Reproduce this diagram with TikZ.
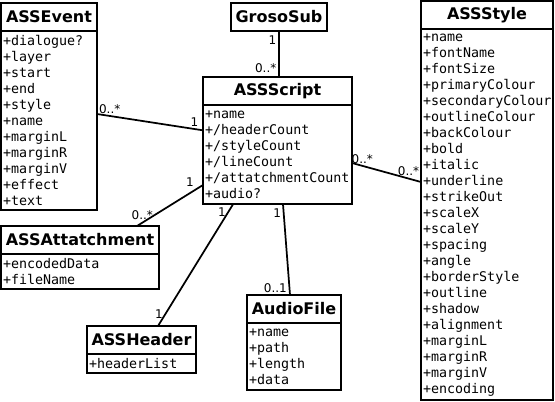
\documentclass[tikz,border=0pt]{standalone}
\usepackage{fontspec}
\setmainfont{DejaVu Sans}
\setmonofont{DejaVu Sans Mono}
\usetikzlibrary{positioning}

\begin{document}
\begin{tikzpicture}[x=0.75pt, y=-0.75pt,
  every node/.style={outer sep=0pt},
  classname/.style={draw, line width=1.4pt, anchor=north west, minimum height=21pt, inner sep=0pt,
    font=\fontsize{12}{14}\selectfont\bfseries},
  attrs/.style={draw, line width=1.4pt, inner xsep=1.5pt, inner ysep=0pt, align=left,
    font=\fontsize{10}{12}\selectfont\ttfamily},
  mult/.style={inner sep=2pt, font=\fontsize{9}{10}\selectfont},
  assoc/.style={line width=1.3pt}]
  \useasboundingbox (0,0) rectangle (555,402);
  % Classes (title box + attribute box)
  \node[classname, minimum width=72pt] (evt) at (1,3) {ASSEvent};
  \node[attrs, text width=69pt, minimum height=134.5pt, below=0pt of evt] (evtb)
    {+dialogue?\\+layer\\+start\\+end\\+style\\+name\\+marginL\\+marginR\\+marginV\\+effect\\+text};
  \node[classname, minimum width=72pt] (groso) at (231,3) {GrosoSub};
  \node[classname, minimum width=111.75pt] (script) at (203,77) {ASSScript};
  \node[attrs, text width=108.75pt, minimum height=74.5pt, below=0pt of script] (scriptb)
    {+name\\+/headerCount\\+/styleCount\\+/lineCount\\+/attatchmentCount\\+audio?};
  \node[classname, minimum width=99pt] (style) at (421,1) {ASSStyle};
  \node[attrs, text width=96pt, minimum height=278.5pt, below=0pt of style] (styleb)
    {+name\\+fontName\\+fontSize\\+primaryColour\\+secondaryColour\\+outlineColour\\+backColour\\+bold\\+italic\\+underline\\+strikeOut\\+scaleX\\+scaleY\\+spacing\\+angle\\+borderStyle\\+outline\\+shadow\\+alignment\\+marginL\\+marginR\\+marginV\\+encoding};
  \node[classname, minimum width=118.5pt] (att) at (1,226) {ASSAttatchment};
  \node[attrs, text width=115.5pt, minimum height=26.5pt, below=0pt of att] (attb)
    {+encodedData\\+fileName};
  \node[classname, minimum width=81.75pt] (hdr) at (87,326) {ASSHeader};
  \node[attrs, text width=78.75pt, minimum height=14.5pt, below=0pt of hdr] (hdrb)
    {+headerList};
  \node[classname, minimum width=70.5pt] (audio) at (247,295) {AudioFile};
  \node[attrs, text width=67.5pt, minimum height=50.5pt, below=0pt of audio] (audiob)
    {+name\\+path\\+length\\+data};
  % Associations with multiplicities
  \draw[assoc] (groso.south) -- (groso.south |- script.north)
    node[mult, pos=0.2, left] (m1) {1}
    node[mult, pos=0.8, left] (m2) {0..*};
  \draw[assoc] ([yshift=5pt]evtb.east) -- ([yshift=-19pt]scriptb.north west)
    node[mult, pos=0.12, above] (m3) {0..*}
    node[mult, pos=0.92, above] (m4) {1};
  \draw[assoc] ([yshift=-60pt]scriptb.north west) -- ([xshift=-16.5pt]att.north east)
    node[mult, pos=0.1, above left] (m5) {1}
    node[mult, pos=0.92, above] (m6) {0..*};
  \draw[assoc] ([xshift=22.5pt]scriptb.south west) -- ([xshift=53.25pt]hdr.north west)
    node[mult, pos=0.06, left] (m7) {1}
    node[mult, pos=0.9, left] (m8) {1};
  \draw[assoc] ([xshift=60pt]scriptb.south west) -- ([xshift=32.25pt]audio.north west)
    node[mult, pos=0.1, left] (m9) {1}
    node[mult, pos=0.92, left] (m10) {0..1};
  \draw[assoc] ([yshift=-43.5pt]scriptb.north east) -- ([yshift=-114.75pt]styleb.north west)
    node[mult, pos=0.15, above] (m11) {0..*}
    node[mult, pos=0.82, above] (m12) {0..*};
\end{tikzpicture}
\end{document}
